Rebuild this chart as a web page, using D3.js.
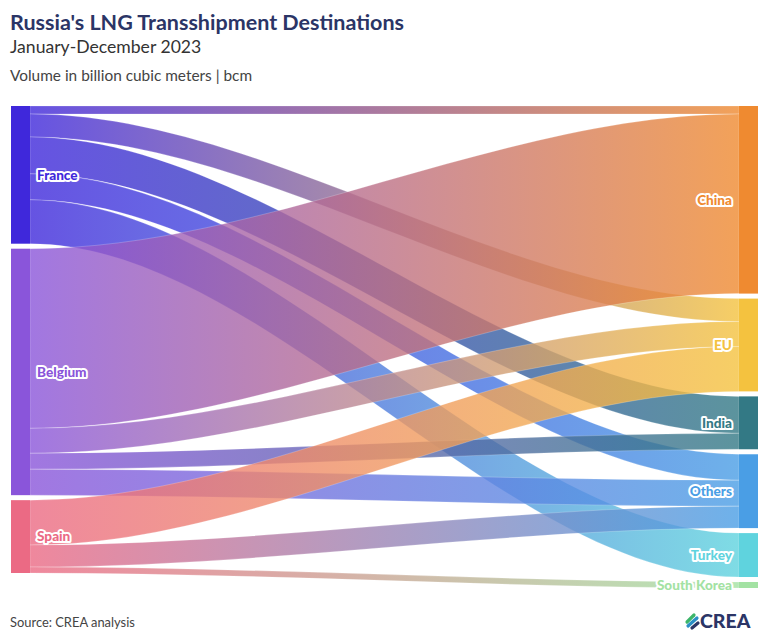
<!DOCTYPE html>
<html><head><meta charset="utf-8">
<script src="https://cdn.jsdelivr.net/npm/d3@7"></script>
<style>
body{margin:0;background:#fff;}
svg text{font-family:Lato,"Noto Sans",sans-serif;}
</style>
</head><body>
<svg id="chart" width="768" height="644"></svg>
<script>
// ---- data ----
const sourceNodes = ["France", "Belgium", "Spain"];
const targetNodes = ["China", "EU", "India", "Others", "Turkey", "South Korea"];
const linkSources = ["France","France","France","France","France","Belgium","Belgium","Belgium","Belgium","Spain","Spain","Spain"];
const linkTargets = ["China","EU","India","Others","Turkey","China","EU","India","Others","EU","Others","South Korea"];
const linkValues  = [0.16, 0.46, 0.74, 0.52, 0.88, 3.60, 0.50, 0.32, 0.52, 0.90, 0.44, 0.12]; // bcm
// ---- styles ----
const sourceColors = ["#3f28db", "#8a55da", "#eb6a84"];
const targetColors = ["#ef8a30", "#f4c23f", "#337985", "#4a9ee5", "#5fd3de", "#a3e2a3"];

const svg = d3.select("#chart");
const plotTop = 106, plotBottom = 588, pad = 5;
const leftX0 = 11, leftX1 = 30, rightX0 = 739, rightX1 = 758;

const links = linkValues.map((v, i) => ({source: linkSources[i], target: linkTargets[i], value: v}));
const total = name => d3.sum(links.filter(l => l.source === name || l.target === name), l => l.value);
const srcTotals = sourceNodes.map(total), tgtTotals = targetNodes.map(total);
const avail = Math.min(
  (plotBottom - plotTop - pad * (sourceNodes.length - 1)) / d3.sum(srcTotals),
  (plotBottom - plotTop - pad * (targetNodes.length - 1)) / d3.sum(tgtTotals));
const h = d3.scaleLinear().domain([0, 1]).range([0, avail]);

function layout(names, totals, x0, x1, colors) {
  let y = plotTop;
  return names.map((n, i) => {
    const node = {name: n, x0, x1, y0: y, y1: y + h(totals[i]), color: colors[i], off: y};
    y = node.y1 + pad;
    return node;
  });
}
const sNodes = layout(sourceNodes, srcTotals, leftX0, leftX1, sourceColors);
const tNodes = layout(targetNodes, tgtTotals, rightX0, rightX1, targetColors);
const byName = {};
sNodes.concat(tNodes).forEach(n => byName[n.name] = n);

links.forEach(l => {
  const s = byName[l.source], t = byName[l.target], th = h(l.value);
  l.sy0 = s.off; l.sy1 = s.off + th; s.off += th;
  l.ty0 = t.off; l.ty1 = t.off + th; t.off += th;
  l.sc = s.color; l.tc = t.color;
});

const defs = svg.append("defs");
const lx0 = leftX1, lx1 = rightX0, cv = (lx1 - lx0) * 0.33;
links.forEach((l, i) => {
  const g = defs.append("linearGradient").attr("id", "lg" + i)
    .attr("gradientUnits", "userSpaceOnUse").attr("x1", lx0).attr("x2", lx1).attr("y1", 0).attr("y2", 0);
  g.append("stop").attr("offset", "0%").attr("stop-color", l.sc);
  g.append("stop").attr("offset", "100%").attr("stop-color", l.tc);
});

svg.append("g").selectAll("path").data(links).join("path")
  .attr("d", l => {
    const p = d3.path();
    p.moveTo(lx0, l.sy0);
    p.bezierCurveTo(lx0 + cv, l.sy0, lx1 - cv, l.ty0, lx1, l.ty0);
    p.lineTo(lx1, l.ty1);
    p.bezierCurveTo(lx1 - cv, l.ty1, lx0 + cv, l.sy1, lx0, l.sy1);
    p.closePath();
    return p.toString();
  })
  .attr("fill", (l, i) => `url(#lg${i})`)
  .attr("fill-opacity", 0.8)
  .attr("stroke", "#fff").attr("stroke-opacity", 0.35).attr("stroke-width", 0.6);

const allNodes = sNodes.concat(tNodes);
svg.append("g").selectAll("rect").data(allNodes).join("rect")
  .attr("x", d => d.x0).attr("y", d => d.y0)
  .attr("width", d => d.x1 - d.x0).attr("height", d => d.y1 - d.y0)
  .attr("fill", d => d.color);

svg.append("g").selectAll("text").data(allNodes).join("text")
  .attr("x", d => d.x0 === leftX0 ? leftX1 + 7 : rightX0 - 7)
  .attr("y", d => (d.y0 + d.y1) / 2)
  .attr("dy", "0.35em")
  .attr("text-anchor", d => d.x0 === leftX0 ? "start" : "end")
  .attr("font-size", 13.6).attr("font-weight", 900)
  .attr("fill", d => d.color)
  .attr("stroke", "#fff").attr("stroke-width", 4).attr("stroke-linejoin", "round")
  .attr("paint-order", "stroke")
  .text(d => d.name);

// titles
svg.append("text").attr("x", 10).attr("y", 30).attr("font-size", 21.5).attr("font-weight", 700)
  .attr("fill", "#2b3566").text("Russia's LNG Transshipment Destinations");
svg.append("text").attr("x", 10).attr("y", 53).attr("font-size", 17.6)
  .attr("fill", "#333").text("January-December 2023");
svg.append("text").attr("x", 10).attr("y", 81).attr("font-size", 15.4)
  .attr("fill", "#444").text("Volume in billion cubic meters | bcm");
svg.append("text").attr("x", 10).attr("y", 627).attr("font-size", 12.9)
  .attr("fill", "#444").text("Source: CREA analysis");

// logo
const logo = svg.append("g").attr("transform", "translate(686,614)");
logo.append("path").attr("d", "M1,8 L8,1").attr("stroke", "#3cb56a").attr("stroke-width", 3.2).attr("stroke-linecap", "round");
logo.append("path").attr("d", "M2,12 L11,4").attr("stroke", "#2a8fc6").attr("stroke-width", 3.2).attr("stroke-linecap", "round");
logo.append("path").attr("d", "M6,14 L12,9").attr("stroke", "#2b3566").attr("stroke-width", 3.2).attr("stroke-linecap", "round");
svg.append("text").attr("x", 700).attr("y", 628).attr("font-size", 19.5).attr("font-weight", 900)
  .attr("fill", "#2b3566").text("CREA");
</script>
</body></html>
